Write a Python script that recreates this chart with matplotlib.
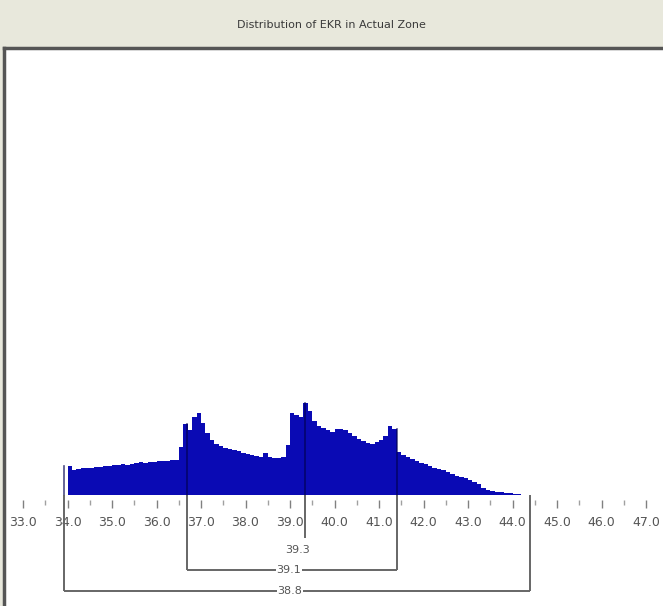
import matplotlib
matplotlib.use("Agg")
import matplotlib.pyplot as plt
import numpy as np

# histogram of EKR, 0.1 wide bins starting at 34.0 (counts)
bin_start = 34.0
bin_width = 0.1
counts = [29, 25, 26, 27, 27, 27, 28, 28, 29, 29,
          30, 30, 31, 30, 31, 32, 33, 32, 33, 33,
          34, 34, 34, 35, 35, 48, 71, 65, 78, 82,
          72, 62, 55, 51, 49, 47, 46, 45, 44, 42,
          41, 40, 39, 38, 42, 38, 37, 37, 38, 50,
          82, 80, 78, 92, 84, 74, 69, 67, 65, 63,
          66, 66, 65, 62, 59, 56, 54, 52, 51, 53,
          55, 59, 69, 66, 43, 40, 38, 36, 34, 32,
          31, 29, 27, 26, 25, 23, 21, 19, 18, 17,
          15, 13, 11, 7, 5, 4, 3, 3, 2, 2,
          1, 1]

tick_major = [33, 34, 35, 36, 37, 38, 39, 40, 41, 42, 43, 44, 45, 46, 47]

# summary brackets: label, low end, high end
bracket_labels = ["39.3", "39.1", "38.8"]
bracket_low = [39.34, 36.69, 33.92]
bracket_high = [39.34, 41.40, 44.39]
label_x = [39.16, 38.97, 39.0]

edges = bin_start + bin_width * np.arange(len(counts) + 1)

fig = plt.figure(figsize=(6.63, 6.06), dpi=100)
fig.patch.set_facecolor("#e8e8dc")
fig.text(0.5, 1 - 25 / 606, "Distribution of EKR in Actual Zone",
         ha="center", va="center", fontsize=8, color="#3a3a3a")

ax = fig.add_axes([5 / 663, 0, 658 / 663, 558 / 606])
ax.set_facecolor("white")
ax.set_xlim(32.5955, 47.382)
ax.set_ylim(-111, 447)

ax.stairs(counts, edges, fill=True, color="#0a0ab4", baseline=0)

# vertical marker lines through the histogram
def height_at(v):
    i = int((v - bin_start) / bin_width)
    if 0 <= i < len(counts):
        return counts[i]
    return 0

bracket_y = [-43, -75, -96]
for lab, lo, hi, lx, by in zip(bracket_labels, bracket_low, bracket_high, label_x, bracket_y):
    for v in sorted(set([lo, hi])):
        h = height_at(v)
        if h > 0:
            ax.plot([v, v], [0, h], color="#000050", lw=1.2, alpha=0.7)
        ax.plot([v, v], [0, by], color="#666666", lw=1.4, solid_capstyle="butt")
    if lo != hi:
        ax.plot([lo, hi], [by, by], color="#666666", lw=1.4, solid_capstyle="butt")
        ax.text(lx, by, lab, ha="center", va="center", fontsize=8, color="#555555",
                bbox=dict(facecolor="white", edgecolor="none", pad=0.5))
    else:
        ax.text(lx, by - 12, lab, ha="center", va="center", fontsize=8, color="#555555")

# axis in the middle of the panel
for s in ["right", "left", "top"]:
    ax.spines[s].set_visible(False)
ax.spines["bottom"].set_position(("data", -5))
ax.spines["bottom"].set_color("none")
ax.set_xticks(tick_major)
ax.set_xticklabels([f"{t:.1f}" for t in tick_major])
ax.set_xticks(np.arange(33.5, 47, 1.0), minor=True)
ax.tick_params(axis="x", which="major", direction="out", length=6, width=1,
               color="#808080", labelsize=9, labelcolor="#555555", pad=5.5)
ax.tick_params(axis="x", which="minor", direction="out", length=3.5, width=1,
               color="#a0a0a0")
ax.set_yticks([])

# sunken panel border on top and left
fig.add_artist(plt.Line2D([4 / 663, 1], [1 - 48 / 606, 1 - 48 / 606],
                          color="#555555", lw=2.5, transform=fig.transFigure))
fig.add_artist(plt.Line2D([4 / 663, 4 / 663], [0, 1 - 48 / 606],
                          color="#555555", lw=2.5, transform=fig.transFigure))

fig.savefig("out.png", dpi=100, facecolor=fig.get_facecolor())
